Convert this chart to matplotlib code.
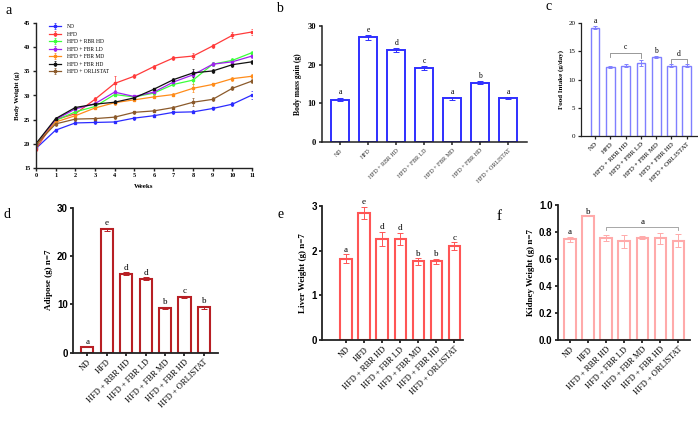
import matplotlib
matplotlib.use("Agg")
import matplotlib.pyplot as plt
import numpy as np

# ---------------- data ----------------
weeks = list(range(12))
series_names = ["ND", "HFD", "HFD + RBR HD", "HFD + FBR LD", "HFD + FBR MD", "HFD + FBR HD", "HFD + ORLISTAT"]
bw_nd      = [19.0, 22.8, 24.3, 24.4, 24.5, 25.3, 25.8, 26.5, 26.6, 27.3, 28.2, 30.1]
bw_hfd     = [18.9, 25.0, 26.2, 29.2, 32.5, 34.0, 36.0, 37.8, 38.2, 40.3, 42.5, 43.2]
bw_rbr_hd  = [19.5, 24.8, 26.6, 27.7, 30.2, 29.7, 30.5, 32.3, 33.2, 36.5, 37.3, 38.9]
bw_fbr_ld  = [19.6, 25.0, 27.2, 28.3, 30.7, 29.8, 30.7, 32.8, 34.3, 36.5, 37.0, 38.2]
bw_fbr_md  = [19.7, 24.5, 25.8, 27.4, 28.5, 29.1, 29.7, 30.2, 31.5, 32.3, 33.5, 34.0]
bw_fbr_hd  = [20.0, 25.2, 27.5, 28.2, 28.6, 29.5, 31.3, 33.3, 34.7, 35.1, 36.4, 37.0]
bw_orl     = [19.8, 24.1, 25.1, 25.2, 25.5, 26.5, 26.8, 27.5, 28.6, 29.2, 31.5, 33.0]
bw_err_nd  = [0.4, 0.3, 0.3, 0.3, 0.3, 0.3, 0.3, 0.3, 0.3, 0.3, 0.4, 0.8]
bw_err_hfd = [0.5, 0.4, 0.4, 0.4, 1.5, 0.4, 0.4, 0.4, 0.7, 0.4, 0.6, 0.6]
bw_err_oth = [0.3, 0.4, 0.3, 0.3, 0.4, 0.3, 0.3, 0.3, 0.8, 0.4, 0.4, 0.4]
line_colors = ["#2b2bff", "#ff3b3b", "#3bff3b", "#a020f0", "#ff8c1a", "#111111", "#8b5a2b"]

categories = ["ND", "HFD", "HFD + RBR HD", "HFD + FBR LD", "HFD + FBR MD", "HFD + FBR HD", "HFD + ORLISTAT"]
gain     = [11.0, 27.0, 23.8, 19.1, 11.3, 15.3, 11.4]
gain_err = [0.5, 0.6, 0.5, 0.5, 0.4, 0.4, 0.3]
gain_let = ["a", "e", "d", "c", "a", "b", "a"]

food     = [19.2, 12.2, 12.5, 12.9, 14.0, 12.5, 12.5]
food_err = [0.3, 0.2, 0.3, 0.5, 0.2, 0.2, 0.2]

adipose     = [1.2, 25.5, 16.3, 15.3, 9.3, 11.6, 9.4]
adipose_err = [0.1, 0.4, 0.3, 0.3, 0.2, 0.2, 0.3]
adipose_let = ["a", "e", "d", "d", "b", "c", "b"]

liver     = [1.82, 2.85, 2.26, 2.26, 1.76, 1.76, 2.10]
liver_err = [0.10, 0.13, 0.16, 0.14, 0.07, 0.05, 0.09]
liver_let = ["a", "e", "d", "d", "b", "b", "c"]

kidney     = [0.745, 0.915, 0.757, 0.730, 0.757, 0.752, 0.737]
kidney_err = [0.02, 0.0, 0.02, 0.05, 0.01, 0.04, 0.045]

SERIF = "Liberation Serif"
SANS = "Liberation Sans"

fig = plt.figure(figsize=(6.98, 4.23), dpi=100)
W, H = 698.0, 423.0

def ax_px(left, top, right, bottom):
    return fig.add_axes([left / W, 1 - bottom / H, (right - left) / W, (bottom - top) / H])

def style(ax, lw=1.0):
    for s in ["top", "right"]:
        ax.spines[s].set_visible(False)
    for s in ["left", "bottom"]:
        ax.spines[s].set_linewidth(lw)
        ax.spines[s].set_color("#222222")
    ax.tick_params(direction="out", width=lw, length=2.5, color="#222222", pad=1.5)

# ---------------- panel a ----------------
ax = ax_px(36, 23.3, 252, 167.7)
style(ax, 1.0)
all_bw = [bw_nd, bw_hfd, bw_rbr_hd, bw_fbr_ld, bw_fbr_md, bw_fbr_hd, bw_orl]
errs = [bw_err_nd, bw_err_hfd, bw_err_oth, bw_err_oth, bw_err_oth, bw_err_oth, bw_err_oth]
for name, vals, e, c in zip(series_names, all_bw, errs, line_colors):
    ax.errorbar(weeks, vals, yerr=e, color=c, lw=0.9, marker="s", ms=1.6,
                elinewidth=0.5, capsize=1.0, capthick=0.5, label=name)
ax.set_xlim(0, 11)
ax.set_ylim(15, 45)
ax.set_xticks(weeks)
ax.set_yticks(range(15, 46, 5))
for lab in ax.get_xticklabels() + ax.get_yticklabels():
    lab.set_fontfamily(SERIF); lab.set_fontweight("bold"); lab.set_fontsize(4.5)
ax.set_xlabel("Weeks", fontfamily=SERIF, fontweight="bold", fontsize=5, labelpad=4)
ax.set_ylabel("Body Weight (g)", fontfamily=SERIF, fontweight="bold", fontsize=5, labelpad=3)
leg = ax.legend(loc="upper left", bbox_to_anchor=(0.05, 1.01), frameon=False,
                prop={"family": SERIF, "size": 4}, handlelength=2.2, handletextpad=1.0,
                labelspacing=0.45, borderaxespad=0)
fig.text(5 / W, 1 - 10 / H, "a", fontfamily=SERIF, fontsize=10, va="center", ha="left")

def bars(ax, vals, err, color, lw, width, capsize=2.0):
    x = np.arange(len(vals))
    ax.bar(x, vals, width=width, facecolor="white", edgecolor=color, linewidth=lw, zorder=2)
    ax.errorbar(x, vals, yerr=err, fmt="none", ecolor=color, elinewidth=0.7,
                capsize=capsize, capthick=0.7, zorder=3)
    return x

def cat_labels(ax, size, family=SERIF, weight="normal", color="black"):
    ax.set_xticks(range(len(categories)))
    ax.set_xticklabels(categories, rotation=45, ha="right", rotation_mode="anchor",
                       fontfamily=family, fontsize=size, fontweight=weight, color=color)

# ---------------- panel b ----------------
ax = ax_px(321.7, 25.7, 526.7, 142.3)
style(ax, 1.1)
x = bars(ax, gain, gain_err, "#2f2fff", 1.4, 0.63)
ax.set_xlim(-0.66, 6.66)
ax.set_ylim(0, 30)
ax.set_yticks([0, 10, 20, 30])
for lab in ax.get_yticklabels():
    lab.set_fontfamily(SERIF); lab.set_fontweight("bold"); lab.set_fontsize(6)
cat_labels(ax, 4.3, color="#333333")
for i, (v, e, l) in enumerate(zip(gain, gain_err, gain_let)):
    ax.text(i, v + e + 0.3, l, ha="center", va="bottom", fontfamily=SERIF, fontsize=5.5)
ax.set_ylabel("Body mass gain (g)", fontfamily=SERIF, fontweight="bold", fontsize=5.5, labelpad=4)
fig.text(276 / W, 1 - 8 / H, "b", fontfamily=SERIF, fontsize=10, va="center", ha="left")

# ---------------- panel c ----------------
ax = ax_px(581, 23.3, 697, 136)
style(ax, 0.9)
cfood = "#7f7fff"
x = bars(ax, food, food_err, cfood, 1.0, 0.57, capsize=1.5)
ax.set_xlim(-0.92, 6.67)
ax.set_ylim(0, 20)
ax.set_yticks([0, 5, 10, 15, 20])
for lab in ax.get_yticklabels():
    lab.set_fontfamily(SERIF); lab.set_fontsize(5)
cat_labels(ax, 5)
ax.text(0, food[0] + food_err[0] + 0.2, "a", ha="center", va="bottom", fontfamily=SERIF, fontsize=5.5)
ax.text(4, food[4] + food_err[4] + 0.2, "b", ha="center", va="bottom", fontfamily=SERIF, fontsize=5.5)
ax.plot([1, 1, 3, 3], [14.0, 14.8, 14.8, 13.9], color="#888888", lw=0.6)
ax.text(2, 15.0, "c", ha="center", va="bottom", fontfamily=SERIF, fontsize=5.5)
ax.plot([5, 5, 6, 6], [12.9, 13.6, 13.6, 12.9], color="#888888", lw=0.6)
ax.text(5.5, 13.8, "d", ha="center", va="bottom", fontfamily=SERIF, fontsize=5.5)
ax.set_ylabel("Food Intake (g/day)", fontfamily=SERIF, fontweight="bold", fontsize=5, labelpad=3)
fig.text(546 / W, 1 - 6 / H, "c", fontfamily=SERIF, fontsize=10, va="center", ha="left")

def lower_panel(ax, vals, err, color, letters, ylim, yticks, fmt, ylabel, lower, upper):
    style(ax, 1.3)
    bars(ax, vals, err, color, 1.5, 0.62, capsize=2.2)
    ax.set_xlim(lower, upper)
    ax.set_ylim(*ylim)
    ax.set_yticks(yticks)
    ax.set_yticklabels([fmt.format(t) for t in yticks], fontfamily=SANS, fontweight="bold", fontsize=7)
    cat_labels(ax, 6)
    span = ylim[1] - ylim[0]
    if letters is not None:
        for i, (v, e, l) in enumerate(zip(vals, err, letters)):
            ax.text(i, v + e + 0.005 * span, l, ha="center", va="bottom", fontfamily=SERIF, fontsize=6.5)
    ax.set_ylabel(ylabel, fontfamily=SERIF, fontweight="bold", fontsize=6.5, labelpad=3)

# ---------------- panel d ----------------
ax = ax_px(73.3, 207.7, 218.3, 352.7)
lower_panel(ax, adipose, adipose_err, "#b81f24", adipose_let, (0, 30), [0, 10, 20, 30], "{:.0f}",
            "Adipose (g) n=7", -0.72, 6.74)
fig.text(3 / W, 1 - 214 / H, "d", fontfamily=SERIF, fontsize=10, va="center", ha="left")

# ---------------- panel e ----------------
ax = ax_px(322.3, 206, 463.3, 340)
lower_panel(ax, liver, liver_err, "#ff5555", liver_let, (0, 3), [0, 1, 2, 3], "{:.0f}",
            "Liver Weight (g) n=7", -1.31, 6.5)
fig.text(277 / W, 1 - 214 / H, "e", fontfamily=SERIF, fontsize=10, va="center", ha="left")

# ---------------- panel f ----------------
ax = ax_px(558, 205, 690, 340)
kid_let = ["a", "b", None, None, None, None, None]
lower_panel(ax, kidney, kidney_err, "#ffaaaa", None, (0, 1.0), [0, 0.2, 0.4, 0.6, 0.8, 1.0], "{:.1f}",
            "Kidney Weight (g) n=7", -0.66, 6.65)
for i in (0, 1):
    ax.text(i, kidney[i] + kidney_err[i] + 0.005, kid_let[i], ha="center", va="bottom",
            fontfamily=SERIF, fontsize=6.5)
ax.plot([2, 2, 6, 6], [0.815, 0.84, 0.84, 0.815], color="#999999", lw=0.6)
ax.text(4, 0.845, "a", ha="center", va="bottom", fontfamily=SERIF, fontsize=6.5)
fig.text(497 / W, 1 - 217 / H, "f", fontfamily=SERIF, fontsize=11, va="center", ha="left")

fig.savefig("out.png", dpi=100)
